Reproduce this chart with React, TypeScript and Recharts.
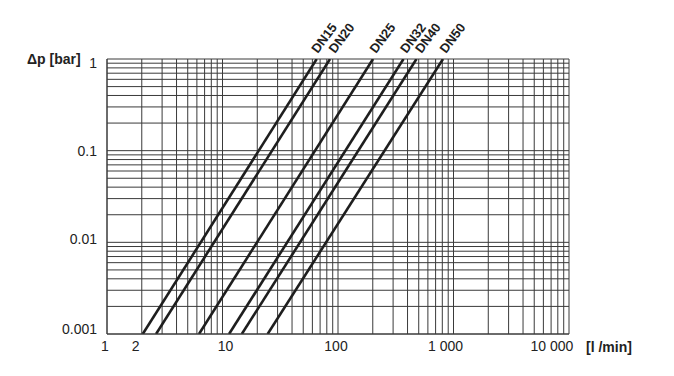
import { LineChart, Line, XAxis, YAxis, CartesianGrid } from 'recharts';

// flow rate [l/min] where each DN curve hits 0.001 bar and 1 bar
const DP_RANGE = [0.001, 1];
const DN15 = [2.04, 65.4];
const DN20 = [2.66, 85.3];
const DN25 = [6.26, 201];
const DN32 = [11.4, 369];
const DN40 = [14.7, 478];
const DN50 = [24.6, 811];

const SERIES: { name: string; q: number[] }[] = [
  { name: 'DN15', q: DN15 },
  { name: 'DN20', q: DN20 },
  { name: 'DN25', q: DN25 },
  { name: 'DN32', q: DN32 },
  { name: 'DN40', q: DN40 },
  { name: 'DN50', q: DN50 },
];

// log grid lines
const X_GRID = [
  1, 2, 3, 4, 5, 6, 7, 8, 9,
  10, 20, 30, 40, 50, 60, 70, 80, 90,
  100, 200, 300, 400, 500, 600, 700, 800, 900,
  1000, 2000, 3000, 4000, 5000, 6000, 7000, 8000, 9000,
  10000,
];
const Y_GRID = [
  0.001, 0.002, 0.003, 0.004, 0.005, 0.006, 0.007, 0.008, 0.009,
  0.01, 0.02, 0.03, 0.04, 0.05, 0.06, 0.07, 0.08, 0.09,
  0.1, 0.2, 0.3, 0.4, 0.5, 0.6, 0.7, 0.8, 0.9,
  1,
];

const X_LABELS: Record<number, string> = { 1: '1', 2: '2', 10: '10', 100: '100', 1000: '1 000', 10000: '10 000' };
const Y_LABELS: Record<number, string> = { 1: '1', 0.1: '0.1', 0.01: '0.01', 0.001: '0.001' };

// hand-placed label nudges, as in the original drawing
const X_NUDGE: Record<number, number> = { 1: -2, 2: -6, 10: 3, 100: -2, 1000: -8, 10000: -17 };
const Y_NUDGE: Record<number, number> = { 1: 4, 0.1: 0, 0.01: -3, 0.001: -5 };
const DN_NUDGE: Record<string, number> = { DN15: 1, DN20: 5, DN25: 3, DN32: 3, DN40: 5, DN50: 3 };

const FONT = '"Liberation Sans", Arial, sans-serif';
const GRID = '#3a3a3a';
const INK = '#1e1e1e';

function XTick({ x, y, payload }: any) {
  const v = payload.value;
  if (!(v in X_LABELS)) return null;
  return (
    <text x={x + X_NUDGE[v]} y={y + 11} textAnchor="middle" fontFamily={FONT} fontSize={14} fill="#222">
      {X_LABELS[v]}
    </text>
  );
}

function YTick({ x, y, payload }: any) {
  const v = payload.value;
  if (!(v in Y_LABELS)) return null;
  return (
    <text x={x} y={y + 5 + Y_NUDGE[v]} textAnchor="end" fontFamily={FONT} fontSize={14} fill="#222">
      {Y_LABELS[v]}
    </text>
  );
}

export default function App() {
  return (
    <div style={{ position: 'absolute', left: 0, top: 0, width: 674, height: 376, background: '#fff' }}>
      <LineChart width={674} height={376} margin={{ top: 59, right: 105, left: 47, bottom: 12 }}>
        <CartesianGrid stroke={GRID} strokeWidth={1} />
        <XAxis
          dataKey="q"
          type="number"
          scale="log"
          domain={[1, 10000]}
          ticks={X_GRID}
          interval={0}
          tick={<XTick />}
          tickLine={false}
          tickSize={0}
          tickMargin={6}
          axisLine={{ stroke: GRID }}
          height={30}
          allowDataOverflow
        />
        <YAxis
          type="number"
          scale="log"
          domain={[0.001, 1]}
          ticks={Y_GRID}
          interval={0}
          tick={<YTick />}
          tickLine={false}
          tickSize={0}
          tickMargin={10}
          axisLine={{ stroke: GRID }}
          width={60}
          allowDataOverflow
        />
        {SERIES.map(s => (
          <Line
            key={s.name}
            data={s.q.map((q, i) => ({ q, dp: DP_RANGE[i] }))}
            dataKey="dp"
            stroke={INK}
            strokeWidth={2.6}
            dot={false}
            activeDot={false}
            isAnimationActive={false}
            label={(p: any) => {
              if (p.index !== 1) return null;
              const lx = p.x + DN_NUDGE[s.name];
              const ly = p.y - 5;
              return (
                <text
                  key={s.name}
                  x={lx}
                  y={ly}
                  transform={`rotate(-53 ${lx} ${ly})`}
                  fontFamily={FONT}
                  fontSize={13}
                  fontWeight="bold"
                  fill={INK}
                >
                  {s.name}
                </text>
              );
            }}
          />
        ))}
      </LineChart>
      <div style={{ position: 'absolute', left: 27, top: 51, fontFamily: FONT, fontSize: 14, fontWeight: 'bold', color: '#222', whiteSpace: 'nowrap' }}>
        Δp [bar]
      </div>
      <div style={{ position: 'absolute', left: 586, top: 339, fontFamily: FONT, fontSize: 14, fontWeight: 'bold', color: '#222', whiteSpace: 'nowrap' }}>
        [l /min]
      </div>
    </div>
  );
}
